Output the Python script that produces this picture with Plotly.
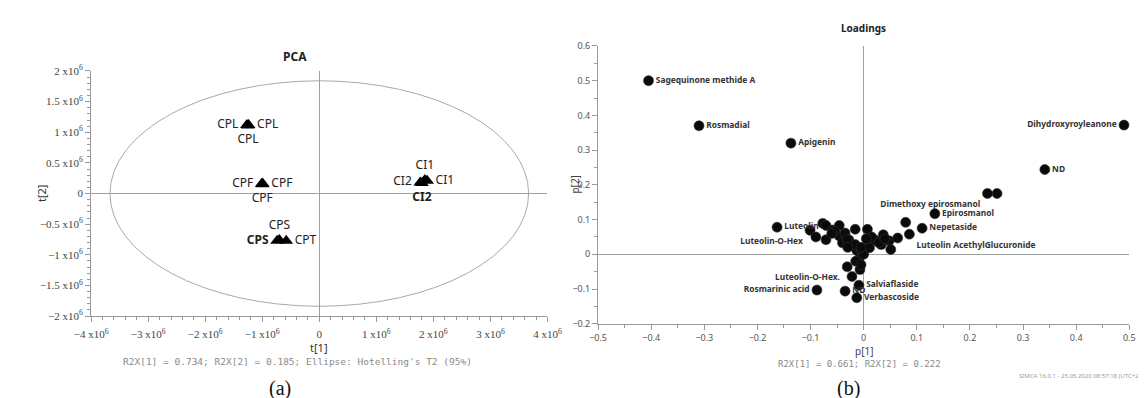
import plotly.graph_objects as go

W, H = 1146, 398

# ---------------- PCA scores (panel a) ----------------
pca_labels = ["CPL", "CPL", "CPL", "CPF", "CPF", "CPF", "<b>CPS</b>", "CPS", "CPT",
              "CI2", "CI1", "CI1", "<b>CI2</b>"]
t1 = [-1.27e6, -1.24e6, -1.25e6, -1.01e6, -0.99e6, -1.00e6, -0.74e6, -0.70e6, -0.58e6,
      1.77e6, 1.85e6, 1.89e6, 1.80e6]
t2 = [1.12e6, 1.12e6, 1.11e6, 0.16e6, 0.16e6, 0.15e6, -0.77e6, -0.76e6, -0.77e6,
      0.18e6, 0.22e6, 0.21e6, 0.17e6]
pca_label_pos = ["middle left", "middle right", "bottom center",
                 "middle left", "middle right", "bottom center",
                 "middle left", "top center", "middle right",
                 "middle left", "top center", "middle right", "bottom center"]

ellipse_t1 = 3.67e6   # Hotelling T2 semi-axis along t[1]
ellipse_t2 = 1.84e6   # semi-axis along t[2]

t_ticks = [-4e6, -3e6, -2e6, -1e6, 0, 1e6, 2e6, 3e6, 4e6]
t_ticktext = ["−4 x10<sup>6</sup>", "−3 x10<sup>6</sup>", "−2 x10<sup>6</sup>", "−1 x10<sup>6</sup>", "0",
              "1 x10<sup>6</sup>", "2 x10<sup>6</sup>", "3 x10<sup>6</sup>", "4 x10<sup>6</sup>"]
t2_ticks = [-2e6, -1.5e6, -1e6, -0.5e6, 0, 0.5e6, 1e6, 1.5e6, 2e6]
t2_ticktext = ["−2 x10<sup>6</sup>", "−1.5 x10<sup>6</sup>", "−1 x10<sup>6</sup>", "−0.5 x10<sup>6</sup>", "0",
               "0.5 x10<sup>6</sup>", "1 x10<sup>6</sup>", "1.5 x10<sup>6</sup>", "2 x10<sup>6</sup>"]

# ---------------- Loadings (panel b) ----------------
load_names = ["Sagequinone methide A", "Rosmadial", "Apigenin", "Dihydroxyroyleanone", "ND",
              "", "Dimethoxy epirosmanol", "Epirosmanol", "Nepetaside", "Luteolin AcethylGlucuronide",
              "Luteolin", "Luteolin-O-Hex", "Rosmarinic acid", "Luteolin-O-Hex.", "Salviaflaside",
              "ND", "Verbascoside",
              "", "", "", "", "", "", "", "", "", "", "", "", "", "", "", "", "", "", "", "", "",
              "", "", "", "", "", "", "", "", "", "", "", "", "", "", "", "", "", "", "", "", ""]
p1 = [-0.405, -0.310, -0.137, 0.490, 0.341,
      0.251, 0.233, 0.134, 0.110, 0.086,
      -0.163, -0.101, -0.088, -0.031, -0.009,
      -0.035, -0.013,
      -0.077, -0.071, -0.090, -0.071, -0.059, -0.046, -0.046, -0.035, -0.040, -0.028,
      -0.016, -0.022, -0.013, 0.007, 0.009, 0.000, 0.024, 0.037, 0.033, 0.048,
      0.064, -0.055, -0.031, -0.016, -0.004, -0.009, 0.000, 0.011, 0.020, 0.029,
      0.051, 0.079, -0.022, -0.007, -0.015, -0.005, -0.060, -0.030, 0.015, 0.040,
      -0.005, 0.005]
p2 = [0.500, 0.370, 0.320, 0.372, 0.244,
      0.175, 0.175, 0.117, 0.075, 0.058,
      0.078, 0.069, -0.103, -0.036, -0.089,
      -0.106, -0.125,
      0.089, 0.083, 0.050, 0.042, 0.070, 0.083, 0.053, 0.061, 0.033, 0.042,
      0.072, 0.025, 0.011, 0.072, 0.033, 0.006, 0.039, 0.056, 0.028, 0.039,
      0.047, 0.067, 0.042, 0.028, 0.011, -0.014, 0.000, 0.019, 0.042, 0.033,
      0.014, 0.092, -0.064, -0.044, -0.020, -0.030, 0.060, 0.020, 0.050, 0.045,
      0.020, 0.045]
load_label_pos = ["middle right", "middle right", "middle right", "middle left", "middle right",
                  "middle right", "bottom left", "middle right", "middle right", "bottom right",
                  "middle right", "bottom left", "middle left", "bottom left", "middle right",
                  "middle right", "middle right"] + ["middle right"] * (len(p1) - 17)

p_ticks = [-0.5, -0.4, -0.3, -0.2, -0.1, 0, 0.1, 0.2, 0.3, 0.4, 0.5]
p2_ticks = [-0.2, -0.1, 0, 0.1, 0.2, 0.3, 0.4, 0.5, 0.6]

# ---------------- layout geometry ----------------
def fx(px):
    return px / W

def fy(py):
    return 1 - py / H

fig = go.Figure()

fig.add_trace(go.Scatter(
    x=t1, y=t2, mode="markers+text", text=pca_labels, textposition=pca_label_pos,
    marker=dict(symbol="triangle-up", size=12, color="#000000"),
    textfont=dict(family="Noto Sans", size=12, color="#222222"),
    xaxis="x", yaxis="y", showlegend=False, cliponaxis=False))

fig.add_trace(go.Scatter(
    x=p1, y=p2, mode="markers+text", text=load_names, textposition=load_label_pos,
    marker=dict(symbol="circle", size=10, color="#0a0a0a", line=dict(width=0.6, color="#333333")),
    textfont=dict(family="Noto Sans", size=8.4, color="#333333", weight="bold"),
    xaxis="x2", yaxis="y2", showlegend=False, cliponaxis=False))

axis_common = dict(showgrid=False, showline=True, linecolor="#9a9a9a", linewidth=1,
                   ticks="outside", tickcolor="#9a9a9a", ticklen=5,
                   zeroline=True, zerolinecolor="#a0a0a0", zerolinewidth=1.2, mirror=False)

fig.update_layout(
    width=W, height=H, autosize=False,
    margin=dict(l=0, r=0, t=0, b=0),
    paper_bgcolor="white", plot_bgcolor="white",
    xaxis=dict(domain=[fx(68), fx(537)], range=[-4e6, 4e6], anchor="y",
               tickmode="array", tickvals=t_ticks, ticktext=t_ticktext,
               tickfont=dict(family="Liberation Serif", size=11, color="#444444"),
               ticklabelstandoff=3,
               minor=dict(ticks="outside", ticklen=3, tickcolor="#9a9a9a", dtick=2e5, tick0=0),
               **axis_common),
    yaxis=dict(domain=[fy(311), fy(57)], range=[-2e6, 2e6], anchor="x",
               tickmode="array", tickvals=t2_ticks, ticktext=t2_ticktext,
               tickfont=dict(family="Liberation Serif", size=11, color="#444444"),
               minor=dict(ticks="outside", ticklen=3, tickcolor="#9a9a9a", dtick=1e5, tick0=0),
               **axis_common),
    xaxis2=dict(domain=[fx(589), fx(1135)], range=[-0.5, 0.5], anchor="y2",
                tickmode="array", tickvals=p_ticks,
                tickfont=dict(family="Noto Sans", size=9, color="#555555"),
                minor=dict(ticks="outside", ticklen=3, tickcolor="#9a9a9a", dtick=0.05, tick0=0),
                **axis_common),
    yaxis2=dict(domain=[fy(319), fy(31)], range=[-0.2, 0.6], anchor="x2",
                tickmode="array", tickvals=p2_ticks,
                tickfont=dict(family="Noto Sans", size=9, color="#555555"),
                minor=dict(ticks="outside", ticklen=3, tickcolor="#9a9a9a", dtick=0.05, tick0=0),
                **axis_common),
)

fig.add_shape(type="circle", xref="x", yref="y",
              x0=-ellipse_t1, x1=ellipse_t1, y0=-ellipse_t2, y1=ellipse_t2,
              line=dict(color="#a8a8a8", width=1), layer="below")

def ann(text, x, y, size, color="#222222", family="Noto Sans", xanchor="center", angle=0, bold=False):
    fig.add_annotation(text=("<b>%s</b>" % text) if bold else text,
                       x=fx(x), y=fy(y), xref="paper", yref="paper",
                       xanchor=xanchor, yanchor="middle", showarrow=False, textangle=angle,
                       borderpad=0,
                       font=dict(family=family, size=size, color=color))

ann("PCA", 277, 42, 12, bold=True)
ann("Loadings", 862, 12, 10, bold=True)
ann("t[2]", 17, 184, 11, color="#333333", angle=-90)
ann("t[1]", 302, 344, 11, color="#333333")
ann("p[2]", 565, 175, 10, color="#444444", angle=-90)
ann("p[1]", 862, 347, 10, color="#444444")
ann("R2X[1] = 0.734; R2X[2] = 0.185; Ellipse: Hotelling's T2 (95%)", 280, 358, 9.5,
    color="#8a8a8a", family="DejaVu Sans Mono")
ann("R2X[1] = 0.661; R2X[2] = 0.222", 858, 361, 9, color="#8a8a8a", family="DejaVu Sans Mono")
ann("SIMCA 16.0.1 - 25.05.2020 08:57:18 (UTC+2", 1146, 373, 6, color="#9a9a9a", xanchor="right")
ann("(a)", 262, 386, 20, color="#111111", family="Liberation Serif")
ann("(b)", 846, 386, 20, color="#111111", family="Liberation Serif")

fig.write_html("out.html")
